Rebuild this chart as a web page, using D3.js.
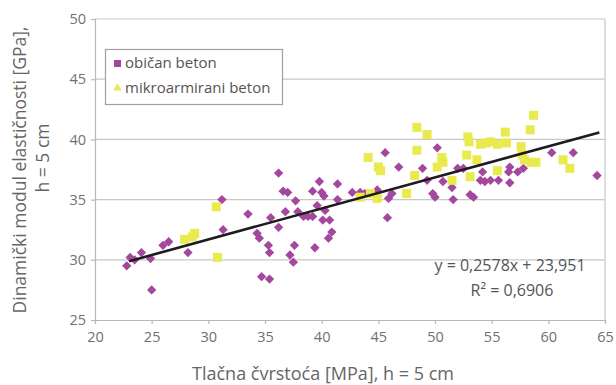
<!DOCTYPE html>
<html><head><meta charset="utf-8">
<script src="https://cdn.jsdelivr.net/npm/d3@7"></script>
<style>
html,body{margin:0;padding:0;background:#fff;}
text{font-family:"Open Sans",sans-serif;}
</style></head>
<body>
<svg id="c" width="616" height="385"></svg>
<script>
// Data
const obicanBeton = [
 [22.8,29.5],[23.1,30.2],[23.5,30.0],[24.1,30.6],[24.9,30.1],[25.0,27.5],[26.0,31.2],[26.5,31.5],[28.2,30.6],
 [31.2,35.0],[31.3,32.5],[33.5,33.8],[34.3,32.2],[34.5,31.8],[35.3,31.2],[35.4,30.6],[34.7,28.6],[35.4,28.4],
 [35.5,33.5],[36.2,37.2],[36.6,35.7],[37.0,35.6],[37.7,34.9],[36.8,34.0],[36.2,32.7],[37.6,31.2],[37.2,30.4],
 [37.5,29.8],[37.9,34.0],[38.4,33.6],[38.8,33.6],[39.2,33.6],[39.4,31.0],[39.8,36.5],[39.2,35.7],[40.0,35.6],
 [40.2,35.3],[39.6,34.5],[40.3,34.1],[40.1,33.3],[40.7,33.3],[40.9,32.3],[40.6,31.8],[41.4,36.3],[41.4,35.0],
 [42.7,35.6],[43.4,35.6],[43.8,35.5],[44.9,35.8],[45.8,33.5],[45.6,38.9],[46.8,37.7],[45.9,35.1],[46.2,35.5],
 [48.9,37.6],[49.3,36.6],[49.8,35.5],[50.2,39.3],[50.0,35.2],[50.7,36.5],[51.5,36.0],[51.6,35.0],[52.0,37.6],
 [52.5,37.6],[53.1,35.4],[53.4,35.2],[54.2,37.3],[54.0,36.6],[54.4,36.5],[54.9,36.6],[55.6,36.6],[56.6,37.7],
 [56.5,37.3],[57.3,37.3],[57.8,37.6],[56.6,36.4],[60.3,38.9],[62.2,38.9],[64.3,37.0]
];
const mikroarmiraniBeton = [
 [27.9,31.7],[28.6,31.9],[28.8,32.2],[30.7,34.4],[30.8,30.2],[43.4,35.2],[44.1,38.5],[44.9,35.1],[45.0,37.7],
 [45.2,37.4],[47.5,35.5],[48.4,41.0],[49.3,40.4],[48.4,39.1],[48.2,37.0],[50.6,38.5],[50.7,38.1],[50.2,37.7],
 [51.5,36.6],[52.9,40.2],[53.0,39.8],[52.8,38.7],[53.7,38.3],[53.1,36.9],[54.0,39.6],[54.5,39.7],[54.9,39.8],
 [55.5,39.6],[56.2,40.6],[56.3,39.7],[57.6,39.4],[57.7,38.7],[58.4,40.8],[58.7,42.0],[57.9,38.3],[58.5,38.1],
 [58.9,38.1],[55.5,37.4],[61.3,38.3],[61.9,37.6],[44.3,35.5]
];
const xTicks = [20,25,30,35,40,45,50,55,60,65];
const yTicks = [25,30,35,40,45,50];
const seriesNames = ["običan beton","mikroarmirani beton"];
const trendSlope = 0.2578, trendIntercept = 23.951;
const trendRange = [23,64.5];
const eqLabel = "y = 0,2578x + 23,951";
const r2Label = "R² = 0,6906";
const xTitle = "Tlačna čvrstoća [MPa], h = 5 cm";
const yTitle = ["Dinamički modul elastičnosti [GPa],","h = 5 cm"];

const purple = "#a4479e", yellow = "#e9ea4e";
const svg = d3.select("#c");
const L=95,R=605,T=19,B=320;
const x = d3.scaleLinear().domain([20,65]).range([L,R]);
const y = d3.scaleLinear().domain([25,50]).range([B,T]);

// grid
svg.append("g").selectAll("line").data(yTicks.filter(d=>d>25)).join("line")
 .attr("x1",L).attr("x2",R).attr("y1",d=>y(d)).attr("y2",d=>y(d))
 .attr("stroke","#c8c8c8").attr("stroke-width",1.2);
svg.append("line").attr("x1",R).attr("x2",R).attr("y1",T).attr("y2",B).attr("stroke","#c8c8c8").attr("stroke-width",1.2);

// axes
const xa = svg.append("g").attr("transform",`translate(0,${B})`)
 .call(d3.axisBottom(x).tickValues(xTicks).tickSize(4).tickPadding(8).tickFormat(d3.format("d")));
const ya = svg.append("g").attr("transform",`translate(${L},0)`)
 .call(d3.axisLeft(y).tickValues(yTicks).tickSize(4).tickPadding(5).tickFormat(d3.format("d")));
[xa,ya].forEach(g=>{
 g.select(".domain").attr("stroke","#b8b8b8").attr("stroke-width",1.2);
 g.selectAll(".tick line").attr("stroke","#b8b8b8").attr("stroke-width",1.2);
 g.selectAll(".tick text").attr("fill","#707070").attr("font-size",14.5).attr("font-family","Open Sans, sans-serif");
});

// points
const dsz = 6.6;
svg.append("g").selectAll("rect").data(obicanBeton).join("rect")
 .attr("x",-dsz/2).attr("y",-dsz/2).attr("width",dsz).attr("height",dsz)
 .attr("transform",d=>`translate(${x(d[0])},${y(d[1])}) rotate(45)`)
 .attr("fill",purple);
const ssz=9;
svg.append("g").selectAll("rect").data(mikroarmiraniBeton).join("rect")
 .attr("x",d=>x(d[0])-ssz/2).attr("y",d=>y(d[1])-ssz/2).attr("width",ssz).attr("height",ssz)
 .attr("fill",yellow);

// trend
svg.append("line")
 .attr("x1",x(trendRange[0])).attr("y1",y(trendSlope*trendRange[0]+trendIntercept))
 .attr("x2",x(trendRange[1])).attr("y2",y(trendSlope*trendRange[1]+trendIntercept))
 .attr("stroke","#1e1a1e").attr("stroke-width",2.6);

// equation
svg.append("text").attr("x",510).attr("y",271).attr("text-anchor","middle")
 .attr("fill","#555").attr("font-size",16).text(eqLabel);
svg.append("text").attr("x",512).attr("y",296).attr("text-anchor","middle")
 .attr("fill","#555").attr("font-size",16).text(r2Label);

// legend
const lg = svg.append("g");
lg.append("rect").attr("x",105.5).attr("y",49.5).attr("width",177).attr("height",55)
 .attr("fill","#fff").attr("stroke","#a0a0a0").attr("stroke-width",1.2);
lg.append("rect").attr("x",114).attr("y",60).attr("width",7).attr("height",7).attr("fill",purple);
lg.append("path").attr("d",d3.symbol(d3.symbolTriangle,30)()).attr("transform","translate(117.5,88)").attr("fill",yellow);
lg.selectAll("text").data(seriesNames).join("text")
 .attr("x",125).attr("y",(d,i)=>68+i*24.5).attr("fill","#555").attr("font-size",15).text(d=>d);

// titles
svg.append("text").attr("x",323).attr("y",380).attr("text-anchor","middle")
 .attr("fill","#666").attr("font-size",18).text(xTitle);
const yPos = [[26,170],[49,158]];
yTitle.forEach((t,i)=>{
 svg.append("text").attr("transform",`translate(${yPos[i][0]},${yPos[i][1]}) rotate(-90)`).attr("text-anchor","middle")
  .attr("fill","#666").attr("font-size",17.5).text(t);
});
</script>
</body></html>
